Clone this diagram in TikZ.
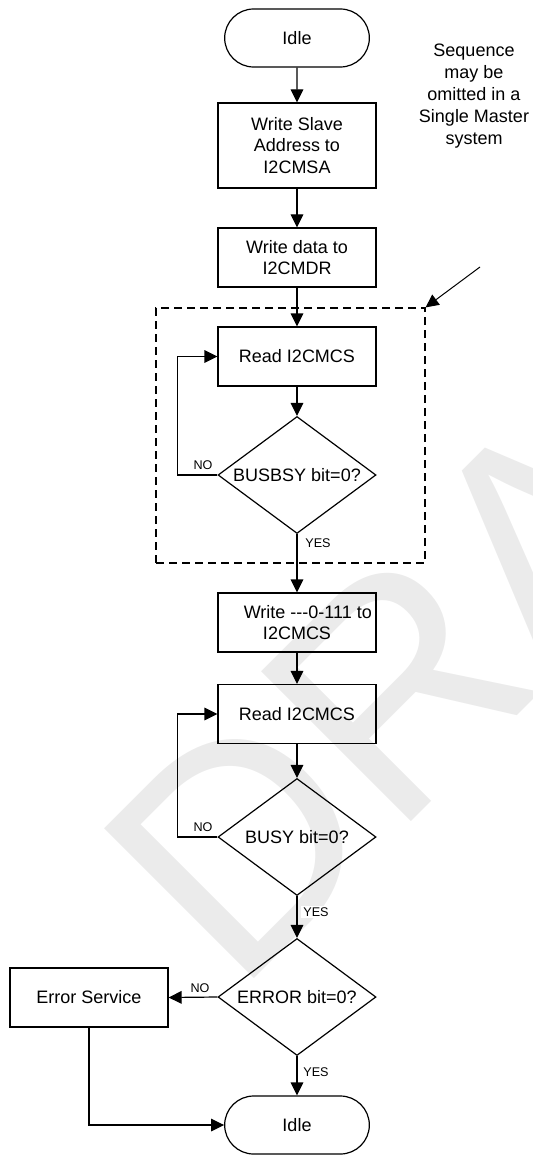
\documentclass[tikz,border=0pt]{standalone}
\usepackage{fontspec}
\setmainfont{Liberation Sans}
\usetikzlibrary{arrows.meta, shapes.geometric, shapes.misc, positioning}

\begin{document}
\begin{tikzpicture}[x=0.5pt, y=-0.5pt, line width=0.6pt,
    flowarrow/.style={-{Triangle[length=6.5pt,width=6.3pt]}},
    procbox/.style={draw, minimum width=79pt, minimum height=29.5pt, align=center, inner sep=1pt, font=\fontsize{9}{10.8}\selectfont},
    decision/.style={draw, diamond, aspect=1.36, minimum width=79pt, minimum height=58.5pt, inner sep=0pt, font=\fontsize{9}{10.8}\selectfont},
    terminal/.style={draw, rounded rectangle, minimum width=79pt, minimum height=29pt, font=\fontsize{9}{10.8}\selectfont},
    edgelabel/.style={inner sep=1pt, font=\fontsize{6.3}{7.5}\selectfont}]
            \useasboundingbox (0,0) rectangle (533,1155);
            % Watermark
            \begin{scope}
                \clip (0,0) rectangle (533,1155);
                \node[rotate=45, anchor=base west, inner sep=0pt, text=black!8, font=\fontsize{154}{154}\selectfont] (wmark) at (236,997) {DRAFT};
            \end{scope}
            % Optional part for a single master
            \node[draw, dashed, dash pattern=on 4pt off 2.5pt, minimum width=134.5pt, minimum height=127.5pt] (omitbox) at (290.5,435.5) {};
            \node[align=center, font=\fontsize{9}{11}\selectfont] (omitnote) at (474,96.5) {Sequence\\may be\\omitted in a\\Single Master\\system};
            \coordinate (notetail) at (480,267);
            % Flow
            \node[terminal] (idletop) at (297,38) {Idle};
            \node[procbox, minimum height=42.5pt] (wrslave) at (297,145.5) {Write Slave\\Address to\\I2CMSA};
            \node[procbox] (wrdata) at (297,257.5) {Write data to\\I2CMDR};
            \node[procbox] (rdbus) at (297,356.5) {Read I2CMCS};
            \node[decision] (busbsy) at (297,475) {BUSBSY bit=0?};
            \node[procbox] (wrcs) at (297,622.5) {\hspace*{1.2em}Write -\kern0pt-\kern0pt-0-111 to\\I2CMCS};
            \node[procbox] (rdbusy) at (297,714) {Read I2CMCS};
            \node[decision] (busy) at (297,837) {BUSY bit=0?};
            \node[decision] (errchk) at (297,997) {ERROR bit=0?};
            \node[procbox] (errsvc) at (89,997.5) {Error Service};
            \node[terminal] (idlebot) at (297,1125) {Idle};
            % Branch labels
            \node[edgelabel] (nobusbsy) at (203,465) {NO};
            \node[edgelabel, fill=white] (yesbusbsy) at (318,543) {YES};
            \node[edgelabel] (nobusy) at (203,827) {NO};
            \node[edgelabel, fill=white] (yesbusy) at (316,912) {YES};
            \node[edgelabel] (noerr) at (200,988) {NO};
            \node[edgelabel, fill=white] (yeserr) at (316,1072) {YES};
            % Connectors
            \draw[flowarrow] (idletop) -- (wrslave);
            \draw[flowarrow] (wrslave) -- (wrdata);
            \draw[flowarrow] (wrdata) -- (rdbus);
            \draw[flowarrow] (rdbus) -- (busbsy);
            \draw[flowarrow] (busbsy.west) -- ++(-40,0) |- (rdbus.west);
            \draw[flowarrow] (busbsy.south) -- (wrcs.north);
            \draw[flowarrow] (wrcs) -- (rdbusy);
            \draw[flowarrow] (rdbusy) -- (busy);
            \draw[flowarrow] (busy.west) -- ++(-40,0) |- (rdbusy.west);
            \draw[flowarrow] (busy.south) -- (errchk.north);
            \draw[flowarrow] (errchk.west) -- (errsvc.east);
            \draw[flowarrow] (errchk.south) -- (idlebot.north);
            \draw[flowarrow] (errsvc.south) |- (idlebot.west);
            \draw[flowarrow, line width=0.5pt] (notetail) -- (omitbox.north east);
        \end{tikzpicture}
\end{document}
